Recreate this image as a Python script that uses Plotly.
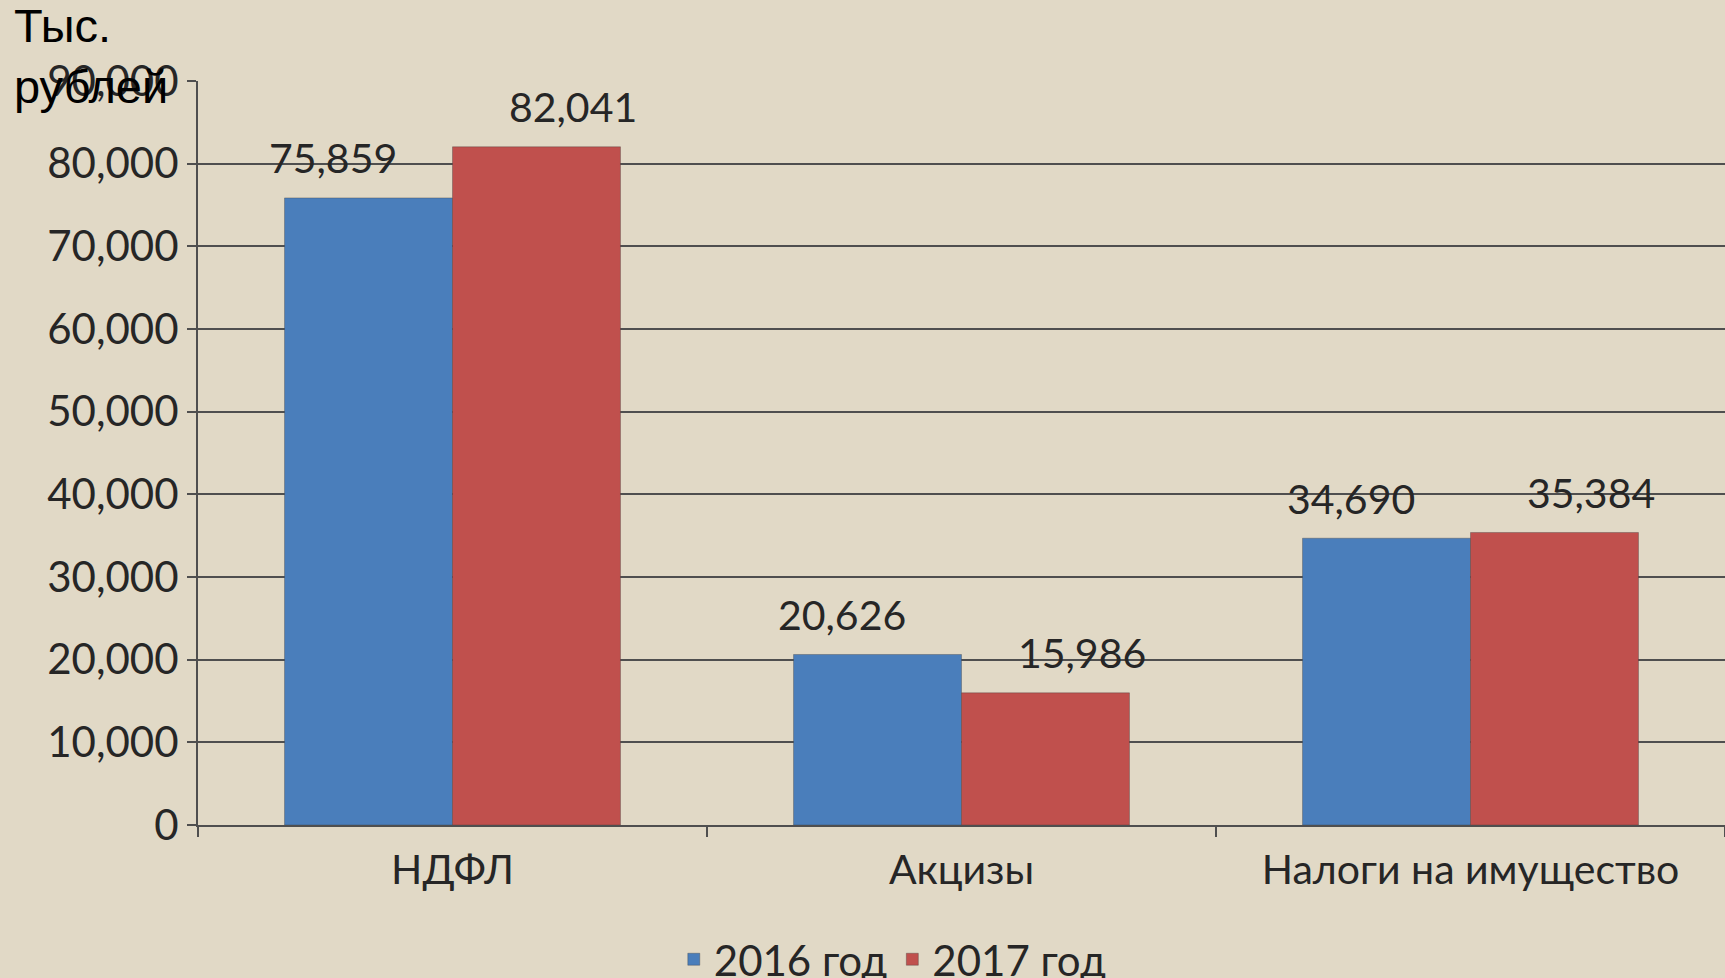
import plotly.graph_objects as go

categories = ["НДФЛ", "Акцизы", "Налоги на имущество"]
series_names = ["2016 год", "2017 год"]
values_2016 = [75859, 20626, 34690]
values_2017 = [82041, 15986, 35384]
y_tickvals = [0, 10000, 20000, 30000, 40000, 50000, 60000, 70000, 80000, 90000]
y_title = "Тыс.<br>рублей"

colors = ["#4a7ebb", "#c0504d"]
FONT = "Lato, 'Open Sans', 'Liberation Sans', sans-serif"
TXT = "#262626"

fig = go.Figure()
for name, vals, col in zip(series_names, [values_2016, values_2017], colors):
    fig.add_trace(go.Bar(
        x=categories, y=vals, name=name,
        marker=dict(color=col, line=dict(color="rgba(60,60,60,0.35)", width=1)),
    ))

# data labels, offset outward from each bar
bar_off = 84
lab_off = 36
for i, vals in enumerate([values_2016, values_2017]):
    sign = -1 if i == 0 else 1
    for c, v in zip(categories, vals):
        fig.add_annotation(
            x=c, y=v, text=f"{v:,}", showarrow=False,
            xshift=sign * (bar_off + lab_off), yshift=40, yanchor="middle",
            font=dict(family=FONT, size=41, color=TXT),
        )

fig.add_annotation(
    xref="paper", yref="paper", x=-186 / 1527, y=1 + 84 / 744, xanchor="left", yanchor="top",
    text=y_title, showarrow=False, align="left",
    font=dict(family="'Liberation Sans', Arial, sans-serif", size=47, color="#000000"),
)

fig.update_layout(
    width=1725, height=978,
    margin=dict(l=198, r=0, t=81, b=153, autoexpand=False),
    paper_bgcolor="#e1d9c6", plot_bgcolor="#e1d9c6",
    barmode="group", bargap=0.34, bargroupgap=0,
    font=dict(family=FONT, size=42, color=TXT),
    showlegend=True,
    legend=dict(
        orientation="h", x=0.455, xanchor="center", y=-0.135, yanchor="top",
        font=dict(family=FONT, size=42, color=TXT), itemwidth=30,
        bgcolor="rgba(0,0,0,0)", tracegroupgap=0,
    ),
)
fig.update_yaxes(
    range=[0, 90000], tickvals=y_tickvals, tickformat=",d",
    showgrid=True, gridcolor="#4f4f4f", gridwidth=2,
    showline=True, linecolor="#4f4f4f", linewidth=2,
    ticks="outside", ticklen=9, tickcolor="#4f4f4f", tickwidth=2,
    tickfont=dict(family=FONT, size=42, color=TXT),
    zeroline=False,
)
fig.update_xaxes(
    showline=True, linecolor="#4f4f4f", linewidth=2,
    ticks="outside", ticklen=10, tickcolor="#4f4f4f", tickwidth=2,
    tickson="boundaries", ticklabelstandoff=8,
    tickfont=dict(family=FONT, size=41, color=TXT),
)

fig.write_html(
    "out.html",
    config={"displayModeBar": False},
    post_script="document.body.style.margin='0';document.body.style.background='#e1d9c6';",
)
